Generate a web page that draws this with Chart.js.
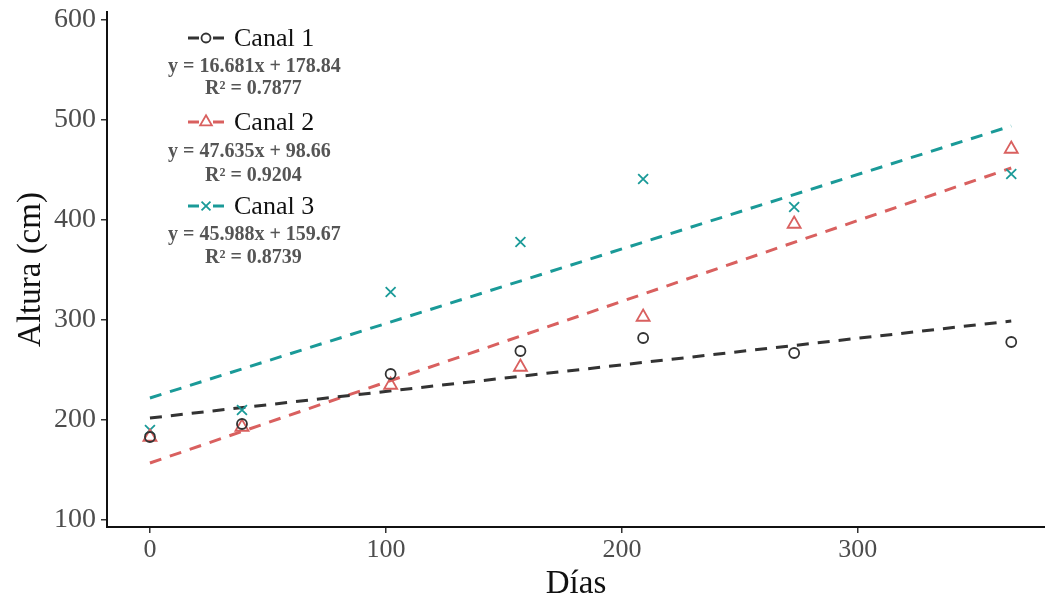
<!DOCTYPE html>
<html lang="es">
<head>
<meta charset="utf-8">
<title>Altura por canal</title>
<script src="https://cdn.jsdelivr.net/npm/chart.js@4.4.1/dist/chart.umd.min.js"></script>
<style>
  html, body { margin: 0; background: #fff; overflow: hidden; }
  canvas { display: block; }
</style>
</head>
<body>
<canvas id="grafico" width="1045" height="601"></canvas>
<script>
// Mediciones por canal
const dias = [0, 39, 102, 157, 209, 273, 365];
const canal1 = [183, 196, 246, 269, 282, 267, 278];
const canal2 = [183, 193, 235, 253, 303, 396, 471];
const canal3 = [190, 210, 328, 378, 441, 413, 446];

// Rectas de ajuste: valores en los extremos del periodo
const ajusteX = [0, 365];
const ajuste1 = [202, 299];
const ajuste2 = [157, 452];
const ajuste3 = [222, 494];

const ticksX = [0, 100, 200, 300];
const ticksY = [100, 200, 300, 400, 500, 600];

const nombres = ['Canal 1', 'Canal 2', 'Canal 3'];
const ecuaciones = ['y = 16.681x + 178.84', 'y = 47.635x + 98.66', 'y = 45.988x + 159.67'];
const r2 = ['R² = 0.7877', 'R² = 0.9204', 'R² = 0.8739'];

const colores = ['#333333', '#d9605f', '#1a9a98'];
const formas = ['circle', 'triangle', 'crossRot'];
const radios = [5, 7.5, 7];
const serif = "'Liberation Serif', 'Times New Roman', serif";

const puntos = (ys) => dias.map((d, i) => ({ x: d, y: ys[i] }));
const recta = (ys) => ajusteX.map((d, i) => ({ x: d, y: ys[i] }));

const series = [canal1, canal2, canal3];
const ajustes = [ajuste1, ajuste2, ajuste3];

const datasets = [];
series.forEach((ys, k) => {
    datasets.push({
        label: nombres[k],
        data: puntos(ys),
        showLine: false,
        pointStyle: formas[k],
        pointRadius: radios[k],
        pointBorderWidth: 1.8,
        borderColor: colores[k],
        backgroundColor: 'rgba(0,0,0,0)',
        order: 1
    });
});
ajustes.forEach((ys, k) => {
    datasets.push({
        label: nombres[k] + ' ajuste',
        data: recta(ys),
        showLine: true,
        pointRadius: 0,
        borderColor: colores[k],
        borderWidth: 3,
        borderDash: [12, 9],
        order: 2
    });
});

// Leyenda dibujada dentro del area del grafico
const leyenda = {
    id: 'leyenda',
    afterDraw(chart) {
        const ctx = chart.ctx;
        const filaY = [38, 122, 206];
        const ecY = [67, 152, 235];
        const r2Y = [89, 176, 258];
        ctx.save();
        for (let k = 0; k < 3; k++) {
            const y = filaY[k];
            ctx.strokeStyle = colores[k];
            ctx.lineWidth = 3;
            ctx.setLineDash([]);
            ctx.beginPath();
            ctx.moveTo(188, y); ctx.lineTo(199, y);
            ctx.moveTo(213, y); ctx.lineTo(224, y);
            ctx.stroke();
            ctx.lineWidth = 1.8;
            ctx.fillStyle = '#fff';
            Chart.helpers.drawPoint(ctx, { pointStyle: formas[k], radius: radios[k] * 0.9, borderWidth: 1.8 }, 206, y);

            ctx.fillStyle = '#111';
            ctx.font = '26px ' + serif;
            ctx.textBaseline = 'middle';
            ctx.textAlign = 'left';
            ctx.fillText(nombres[k], 234, y + 1);

            ctx.fillStyle = '#555';
            ctx.font = 'bold 20px ' + serif;
            ctx.fillText(ecuaciones[k], 168, ecY[k]);
            ctx.fillText(r2[k], 205, r2Y[k]);
        }
        ctx.restore();
    }
};

new Chart(document.getElementById('grafico'), {
    type: 'scatter',
    data: { datasets },
    options: {
        responsive: false,
        animation: false,
        events: [],
        layout: { autoPadding: false, padding: { top: 12, right: 0, left: 0, bottom: 0 } },
        plugins: {
            legend: { display: false },
            tooltip: { enabled: false }
        },
        scales: {
            x: {
                type: 'linear',
                min: -18.2,
                max: 379.3,
                afterBuildTicks: (s) => { s.ticks = ticksX.map(v => ({ value: v })); },
                afterFit: (s) => { s.height = 74; s.paddingLeft = 0; s.paddingRight = 0; },
                border: { display: true, color: '#111', width: 2 },
                grid: { drawOnChartArea: false, drawTicks: true, tickLength: 6, color: '#333', lineWidth: 1.5 },
                ticks: { color: '#4d4d4d', font: { family: serif, size: 26 }, padding: 2, maxRotation: 0 },
                title: { display: true, text: 'Días', color: '#111', font: { family: serif, size: 33 }, padding: { top: 0, bottom: -3 } }
            },
            y: {
                min: 93,
                max: 608,
                afterBuildTicks: (s) => { s.ticks = ticksY.map(v => ({ value: v })); },
                afterFit: (s) => { s.width = 107; s.paddingTop = 0; s.paddingBottom = 0; },
                border: { display: true, color: '#111', width: 2 },
                grid: { drawOnChartArea: false, drawTicks: true, tickLength: 6, color: '#333', lineWidth: 1.5 },
                ticks: { color: '#4d4d4d', font: { family: serif, size: 28 }, padding: 5 },
                title: { display: true, text: 'Altura (cm)', color: '#111', font: { family: serif, size: 33 }, padding: { top: 12, bottom: 0 } }
            }
        }
    },
    plugins: [leyenda]
});
</script>
</body>
</html>
